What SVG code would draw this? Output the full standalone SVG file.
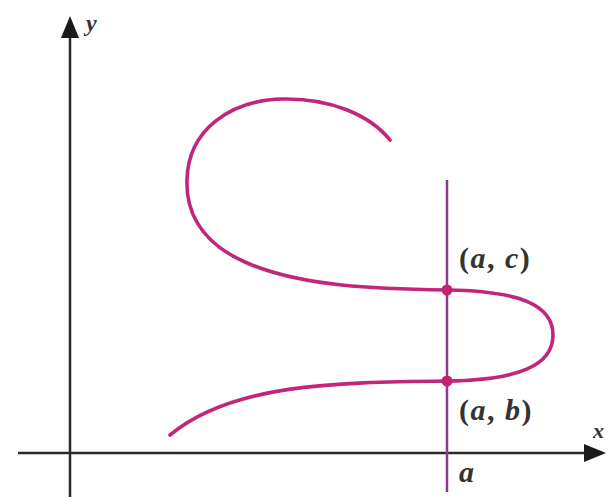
<svg xmlns="http://www.w3.org/2000/svg" width="610" height="497" viewBox="0 0 610 497">
<style>
.axis{stroke:#2a2a2a;stroke-width:2.5;fill:none}
.curve{stroke:#c0267a;stroke-width:3.6;fill:none;stroke-linecap:round}
.vline{stroke:#8e3a8a;stroke-width:2.5}
.pt{fill:#c8206e}
text{font-family:"Liberation Serif","Times New Roman",serif;font-size:30px;font-weight:bold;fill:#333;letter-spacing:1.5px}
.i{font-style:italic}
</style>
<rect width="610" height="497" fill="#fff"/>
<g id="axes">
<line class="axis" x1="70" y1="34" x2="70" y2="497"/>
<polygon points="70,16 61,38 79,38" fill="#1a1a1a"/>
<line class="axis" x1="18" y1="453" x2="588" y2="453"/>
<polygon points="606,453 584,444 584,462" fill="#1a1a1a"/>
<text class="i" x="86" y="31" style="font-size:24px">y</text>
<text class="i" x="593" y="438" style="font-size:22px">x</text>
</g>
<g id="connectors">
<line class="vline" x1="447" y1="180" x2="447" y2="492"/>
<path class="curve" d="M170,435 C230,385 330,382 447,381 C520,380 553,365 553,335 C553,305 520,291 447,290 C380,289 300,287 245,262 C195,240 186,205 187,180 C188,130 230,100 283,99 C330,98 370,115 390,140"/>
</g>
<g id="point-ac">
<circle class="pt" cx="447" cy="290" r="5.5"/>
<text x="459" y="268">(<tspan class="i">a</tspan>, <tspan class="i">c</tspan>)</text>
</g>
<g id="point-ab">
<circle class="pt" cx="447" cy="381" r="5.5"/>
<text x="459" y="420">(<tspan class="i">a</tspan>, <tspan class="i">b</tspan>)</text>
</g>
<g id="label-a">
<text class="i" x="459" y="482">a</text>
</g>
</svg>
